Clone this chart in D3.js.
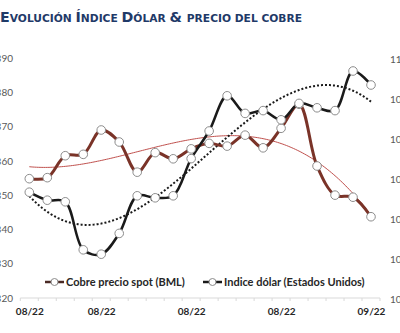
<!DOCTYPE html>
<html><head><meta charset="utf-8">
<script src="https://cdn.jsdelivr.net/npm/d3@7"></script>
<style>
html,body{margin:0;padding:0;background:#fff;}
svg{display:block;}
</style></head>
<body>
<svg id="chart" width="400" height="333"></svg>
<script>
// ---- data ----
const dates = ["2022-08-05","2022-08-08","2022-08-09","2022-08-10","2022-08-11","2022-08-12","2022-08-15","2022-08-16","2022-08-17","2022-08-18",
               "2022-08-19","2022-08-22","2022-08-23","2022-08-24","2022-08-25","2022-08-26","2022-08-29","2022-08-30","2022-08-31","2022-09-01"];
const copper = [354.8,355.1,361.5,361.9,369.0,365.5,356.7,362.4,360.6,363.5,365.1,364.3,367.5,363.8,369.5,376.5,358.5,350.0,349.4,343.7];
const dollar = [106.67,106.47,106.43,105.23,105.12,105.64,106.58,106.53,106.58,107.51,108.20,109.08,108.64,108.71,108.48,108.89,108.78,108.71,109.70,109.35];
const xTickIndex = [0,4,9,14,19];
const leftTicks = [320,330,340,350,360,370,380,390];
const rightTicks = [104,105,106,107,108,109,110];
const seriesNames = ["Cobre precio spot (BML)","Indice dólar (Estados Unidos)"];
const titleParts = [["E",true],["VOLUCIÓN ",false],["Í",true],["NDICE ",false],["D",true],["ÓLAR ",false],["& ",true],["PRECIO DEL COBRE",false]];

// ---- helpers ----
function polyFit(ys, order){
  const n = ys.length, m = order+1;
  const A = Array.from({length:m},()=>new Array(m+1).fill(0));
  for(let i=0;i<n;i++){
    const x=i+1;
    for(let r=0;r<m;r++){
      for(let c=0;c<m;c++) A[r][c]+=Math.pow(x,r+c);
      A[r][m]+=ys[i]*Math.pow(x,r);
    }
  }
  for(let p=0;p<m;p++){
    let best=p; for(let r=p+1;r<m;r++) if(Math.abs(A[r][p])>Math.abs(A[best][p])) best=r;
    [A[p],A[best]]=[A[best],A[p]];
    for(let r=0;r<m;r++){ if(r===p) continue; const f=A[r][p]/A[p][p]; for(let c=p;c<=m;c++) A[r][c]-=f*A[p][c]; }
  }
  const coef=A.map((row,i)=>row[m]/row[i]);
  return x=>coef.reduce((s,c,k)=>s+c*Math.pow(x,k),0);
}

const svg = d3.select("#chart");
const x = d3.scalePoint().domain(dates).range([29.3,371]);
const step = x.step();
const yL = d3.scaleLinear().domain([320,390]).range([298,58]);
const yR = d3.scaleLinear().domain([104,110]).range([299,59]);

// title
const title = svg.append("text").attr("x",0).attr("y",22)
  .attr("font-family","DejaVu Sans, Verdana, sans-serif").attr("font-weight","bold")
  .attr("fill","#1f3a68").attr("textLength",302).attr("lengthAdjust","spacingAndGlyphs");
titleParts.forEach(([t,big])=>title.append("tspan").attr("font-size",big?14:10.5).text(t));

// left axis
const gL = svg.append("g").attr("transform","translate(13,0)")
  .call(d3.axisLeft(yL).tickValues(leftTicks).tickSize(0).tickPadding(0).tickFormat(d3.format("d")));
gL.select(".domain").remove();
gL.selectAll("text").attr("font-family","Lato, 'Open Sans', sans-serif").attr("font-size",10).attr("fill","#595959");

// right axis
const gR = svg.append("g").attr("transform","translate(390,0)")
  .call(d3.axisRight(yR).tickValues(rightTicks).tickSize(0).tickPadding(0).tickFormat(d3.format("d")));
gR.select(".domain").remove();
gR.selectAll("text").attr("font-family","Lato, 'Open Sans', sans-serif").attr("font-size",10).attr("fill","#595959");

// x axis
const gX = svg.append("g").attr("transform","translate(0,298)")
  .call(d3.axisBottom(x).tickValues(xTickIndex.map(i=>dates[i])).tickSize(0).tickPadding(10)
    .tickFormat(d=>d3.timeFormat("%m/%y")(d3.timeParse("%Y-%m-%d")(d))));
gX.select(".domain").attr("d",`M${x(dates[0])-step/2},0H${x(dates[dates.length-1])+step/2}`).attr("stroke","#d9d9d9").attr("stroke-width",1);
gX.selectAll("text").attr("font-family","Lato, 'Open Sans', sans-serif").attr("font-size",10).attr("font-weight","bold").attr("fill","#262626");
gX.selectAll(".minor").data(d3.range(dates.length+1)).join("line")
  .attr("x1",i=>x(dates[0])-step/2+i*step).attr("x2",i=>x(dates[0])-step/2+i*step)
  .attr("y1",0).attr("y2",3).attr("stroke","#d9d9d9");

// trendlines
const fineX = d3.range(0,19.001,0.1);
const cTrend = polyFit(copper,3), dTrend = polyFit(dollar,3);
const xi = t => x(dates[0]) + t*step;
svg.append("path").attr("fill","none").attr("stroke","#c0504d").attr("stroke-width",1)
  .attr("d",d3.line().x(t=>xi(t)).y(t=>yL(cTrend(t+1)))(fineX));
svg.append("path").attr("fill","none").attr("stroke","#1a1a1a").attr("stroke-width",2).attr("stroke-dasharray","2,2")
  .attr("d",d3.line().x(t=>xi(t)).y(t=>yR(dTrend(t+1)))(fineX));

// series lines
const lineC = d3.line().curve(d3.curveCatmullRom.alpha(0.5)).x((d,i)=>x(dates[i])).y(d=>yL(d));
const lineD = d3.line().curve(d3.curveCatmullRom.alpha(0.5)).x((d,i)=>x(dates[i])).y(d=>yR(d));
svg.append("path").attr("fill","none").attr("stroke","#7a3328").attr("stroke-width",3).attr("d",lineC(copper));
svg.append("path").attr("fill","none").attr("stroke","#1a1a1a").attr("stroke-width",2.5).attr("d",lineD(dollar));

// markers
svg.append("g").selectAll("circle").data(copper).join("circle")
  .attr("cx",(d,i)=>x(dates[i])).attr("cy",d=>yL(d)).attr("r",4.3)
  .attr("fill","#fff").attr("stroke","#8c8c8c").attr("stroke-width",1);
svg.append("g").selectAll("circle").data(dollar).join("circle")
  .attr("cx",(d,i)=>x(dates[i])).attr("cy",d=>yR(d)).attr("r",4.3)
  .attr("fill","#fff").attr("stroke","#8c8c8c").attr("stroke-width",1);

// legend
const legend = [{x:45,color:"#4a2a24",name:seriesNames[0]},{x:203,color:"#1a1a1a",name:seriesNames[1]}];
legend.forEach(l=>{
  const g = svg.append("g").attr("transform",`translate(${l.x},282)`);
  g.append("line").attr("x1",0).attr("x2",19).attr("stroke",l.color).attr("stroke-width",2.5);
  g.append("circle").attr("cx",9.5).attr("r",3.5).attr("fill","#fff").attr("stroke","#8c8c8c");
  g.append("text").attr("x",21).attr("y",4).attr("font-family","Lato, 'Open Sans', sans-serif")
    .attr("font-size",11).attr("font-weight","bold").attr("fill","#262626").text(l.name);
});
</script>
</body></html>
